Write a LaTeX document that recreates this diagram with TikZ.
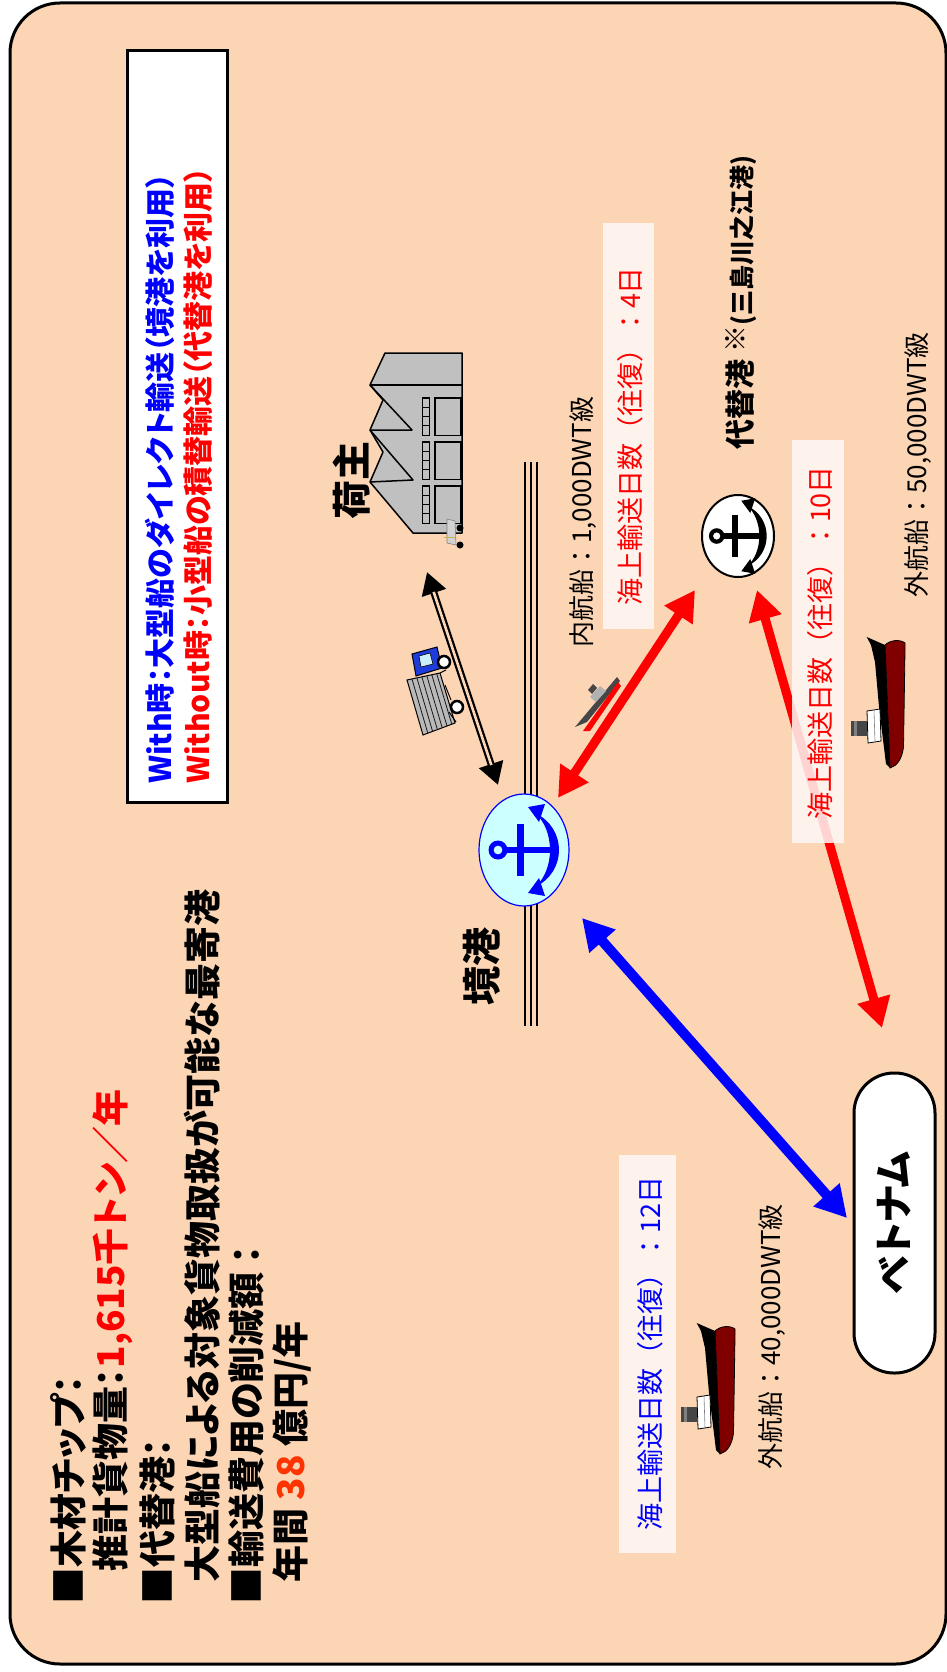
\documentclass[tikz,border=0pt]{standalone}
\usepackage{fontspec}
\setmainfont{Noto Sans CJK JP}[RawFeature=+palt]
\newfontfamily\jpfixed{Noto Sans CJK JP}
\usetikzlibrary{arrows.meta,shapes.geometric,calc}

\definecolor{peach}{RGB}{252,213,181}
\definecolor{lightcyan}{RGB}{204,255,255}
\definecolor{hullred}{RGB}{128,0,0}
\definecolor{orangered}{RGB}{255,51,0}
\definecolor{labelbg}{RGB}{255,249,246}
\definecolor{bldgray}{RGB}{192,192,192}
\definecolor{stackgray}{RGB}{70,70,70}
\definecolor{cabblue}{RGB}{30,60,220}

\begin{document}
\begin{tikzpicture}[x=1pt,y=-1pt,
  vtext/.style={rotate=90,inner sep=0pt,anchor=west},
  leftblk/.style={vtext,font=\bfseries\fontsize{37}{37}\selectfont},
  legendtxt/.style={vtext,font=\bfseries\fontsize{30}{30}\selectfont},
  daybox/.style={rotate=90,fill=labelbg,fill opacity=0.85,inner sep=0pt},
  daytxt/.style={rotate=90,inner sep=0pt,font=\jpfixed\fontsize{27}{27}\selectfont},
  shiptxt/.style={vtext,font=\jpfixed\fontsize{26}{26}\selectfont},
  placetxt/.style={rotate=90,inner sep=0pt,font=\bfseries\fontsize{39}{39}\selectfont},
  redarrow/.style={draw=red,line width=9pt,{Triangle[length=30pt,width=32pt]}-{Triangle[length=30pt,width=32pt]}},
  bluearrow/.style={draw=blue,line width=10pt,{Triangle[length=31pt,width=33pt]}-{Triangle[length=31pt,width=33pt]}},
  pics/anchorsym/.style={code={
    \fill[even odd rule] (-26,0) circle[radius=9.5] (-26,0) circle[radius=4.5];
    \fill (-18,-3.2) rectangle (34,3.2);
    \fill (-7,-26) rectangle (0,26);
    \fill (11,-37) .. controls (43,-22) and (43,22) .. (11,37)
          .. controls (31,20) and (31,-20) .. (11,-37) -- cycle;
    \fill (4,-43) -- (21,-46) -- (15,-28) -- cycle;
    \fill (4,43) -- (21,46) -- (15,28) -- cycle;
  }},
  pics/bigship/.style={code={
    % dark red hull
    \draw[fill=hullred,line width=0.8pt] (35,8) .. controls (40,3) and (50,2) .. (55,6)
      -- (55,12) -- (53.5,110) .. controls (52,122) and (47,129) .. (40,131) -- cycle;
    % black deck band
    \fill[black] (16.7,0) -- (35,8) -- (40,131) -- (36,127) -- (29,70) -- (25,25) -- (21,8) -- cycle;
    % superstructure and funnel
    \draw[fill=white,line width=0.8pt] (17,74) -- (30,72) -- (31,104) -- (18,106) -- cycle;
    \draw[line width=0.6pt,gray] (24,73) -- (25,105);
    \fill[stackgray] (1,84) rectangle (17,99);
    \fill[gray] (4,84) rectangle (7,99);
  }}
]
\useasboundingbox (0,0) rectangle (947,1672);

% outer panel
\draw[line width=3pt,fill=peach,rounded corners=50pt] (10,3) rectangle (946,1664);

% legend box
\node[rotate=90,draw,line width=3pt,fill=white,minimum width=751pt,minimum height=100pt,inner sep=0pt] (legend) at (177,426.5) {};
\node[legendtxt,text=blue] (withline) at (160,784) {With時：大型船のダイレクト輸送（境港を利用）};
\node[legendtxt,text=red] (withoutline) at (198,784) {Without時：小型船の積替輸送（代替港を利用）};

% summary text
\node[leftblk] (l1) at (68.5,1605) {■木材チップ：};
\node[leftblk] (l2) at (112.5,1572) {推計貨物量：\textcolor{red}{1,615千トン／年}};
\node[leftblk] (l3) at (157,1605) {■代替港：};
\node[leftblk] (l4) at (202,1583) {大型船による対象貨物取扱が可能な最寄港};
\node[leftblk] (l5) at (247,1605) {■輸送費用の削減額 ：};
\node[leftblk] (l6) at (292,1583) {年間 \textcolor{orangered}{38} 億円/年};

% quay
\foreach \qx in {525,531,537} \draw[line width=2.2pt] (\qx,462) -- (\qx,1026);

% factory
\coordinate (factory) at (416,443);
\draw[fill=bldgray,line width=1.5pt,line join=round]
  (385,353) -- (462,353) -- (462,533) -- (413,533) -- (370,482) -- (383,452)
  -- (370,430) -- (383,400) -- (370,385) -- cycle;
\draw[line width=1.5pt,line join=round] (370,385) -- (462,385);
\draw[line width=1.5pt,line join=round] (370,385) -- (412,430) -- (370,430);
\draw[line width=1.5pt,line join=round] (370,430) -- (413,480) -- (370,482);
\foreach \gy in {398,442,486}{
  \foreach \k in {0,1,2,3}
    \draw[line width=1.1pt] (422.7,\gy+\k*9.3) rectangle (429.3,\gy+\k*9.3+9.3);
  \draw[line width=1.5pt] (435,\gy) rectangle (461,\gy+37.5);
}
% forklift
\draw[fill=gray!35,draw=gray,line width=0.6pt] (447,519) -- (455,521) -- (456,545) -- (447,543) -- cycle;
\draw[olive!60,line width=0.8pt] (444,537) -- (455,537);
\fill (460,528) circle[radius=3.5] (460,545) circle[radius=3.5];

% truck
\draw[fill=gray!55,line width=1pt] (407,680) -- (440,673) -- (455,723) -- (423,735) -- cycle;
\foreach \t in {0.15,0.3,0.45,0.6,0.75,0.9}
  \draw[gray!20!black,line width=0.8pt] ($(407,680)!\t!(440,673)$) -- ($(423,735)!\t!(455,723)$);
\draw[fill=cabblue,line width=1pt] (412,654) -- (437,647) -- (442,668) -- (416,676) -- cycle;
\draw[fill=cyan!20,line width=0.6pt] (419,656) -- (430,653) -- (433,664) -- (421,667) -- cycle;
\draw[line width=1pt] (440,673) -- (446,670) (445,685) -- (451,700) (449,712) -- (456,722);
\draw[fill=white,line width=2.5pt] (444,662) circle[radius=6];
\draw[fill=white,line width=2.5pt] (457,707) circle[radius=6];

% ports
\node[ellipse,draw=blue,fill=lightcyan,line width=1.2pt,minimum width=90pt,minimum height=112pt,inner sep=0pt] (sakai) at (524,850) {};
\pic[color=blue] at (sakai.center) {anchorsym};
\node[ellipse,draw=black,fill=white,line width=2pt,minimum width=72pt,minimum height=82pt,inner sep=0pt] (alt) at (738,536) {};
\pic[color=black,scale=0.82] at (alt.center) {anchorsym};
\node[rotate=90,draw,line width=3pt,fill=white,rounded corners=40pt,minimum width=300pt,minimum height=81pt,inner sep=0pt,font=\bfseries\fontsize{39}{39}\selectfont] (vn) at (894.5,1223) {ベトナム};

% place labels
\node[placetxt] (sakailbl) at (482,966) {境港};
\node[placetxt] (shipperlbl) at (352,480) {荷主};
\node[vtext,font=\bfseries\fontsize{30}{30}\selectfont] (altlbl) at (741,450)
  {代替港 \raisebox{6pt}{\fontsize{27}{27}\selectfont ※}{\fontsize{25}{25}\selectfont(三島川之江港)}};

% connector end points
\coordinate (k1s) at (427,572);
\coordinate (k1e) at (498,785);
\coordinate (a1s) at (558,798);
\coordinate (a1e) at (695,590);
\coordinate (a2s) at (757,590);
\coordinate (a2e) at (882,1028);
\coordinate (b1s) at (582,918);
\coordinate (b1e) at (847,1218);

% land transport (double line with heads)
\draw[line width=7pt,{Triangle[length=22pt,width=24pt]}-{Triangle[length=22pt,width=24pt]}] (k1s) -- (k1e);
\draw[peach,line width=2.6pt,shorten <=21pt,shorten >=21pt] (k1s) -- (k1e);

% sea routes
\draw[redarrow] (a1s) -- (a1e);
\draw[redarrow] (a2s) -- (a2e);
\draw[bluearrow] (b1s) -- (b1e);

% coastal ship
\fill[stackgray] (575,727) -- (617,677) -- (620,681) -- (587,722) -- cycle;
\fill[red] (583,731) -- (618,682) -- (621,686) -- (590,731) -- cycle;
\fill[gray!60] (590,697) -- (600,686) -- (606,691) -- (596,702) -- cycle;
\fill[stackgray] (588,690) -- (593,684) -- (597,688) -- (592,694) -- cycle;

% ocean ships
\pic at (850,637) {bigship};
\pic at (680,1323) {bigship};

% day labels
\node[daybox,minimum width=406pt,minimum height=51pt] (days4box) at (628.5,426) {};
\node[daytxt,text=red] (days4) at (630,436.5) {海上輸送日数（往復）：4日};
\node[daybox,minimum width=403pt,minimum height=52pt] (days10box) at (818,641.5) {};
\node[daytxt,text=red] (days10) at (820,643) {海上輸送日数（往復）：10日};
\node[daybox,minimum width=398pt,minimum height=57pt] (days12box) at (647.5,1354) {};
\node[daytxt,text=blue] (days12) at (650,1353) {海上輸送日数（往復）：12日};

% ship classes
\node[shiptxt] (coastal) at (583,648) {内航船：1,000DWT級};
\node[shiptxt] (ocean50) at (918,598) {外航船：50,000DWT級};
\node[shiptxt] (ocean40) at (772,1470) {外航船：40,000DWT級};
\end{tikzpicture}
\end{document}
